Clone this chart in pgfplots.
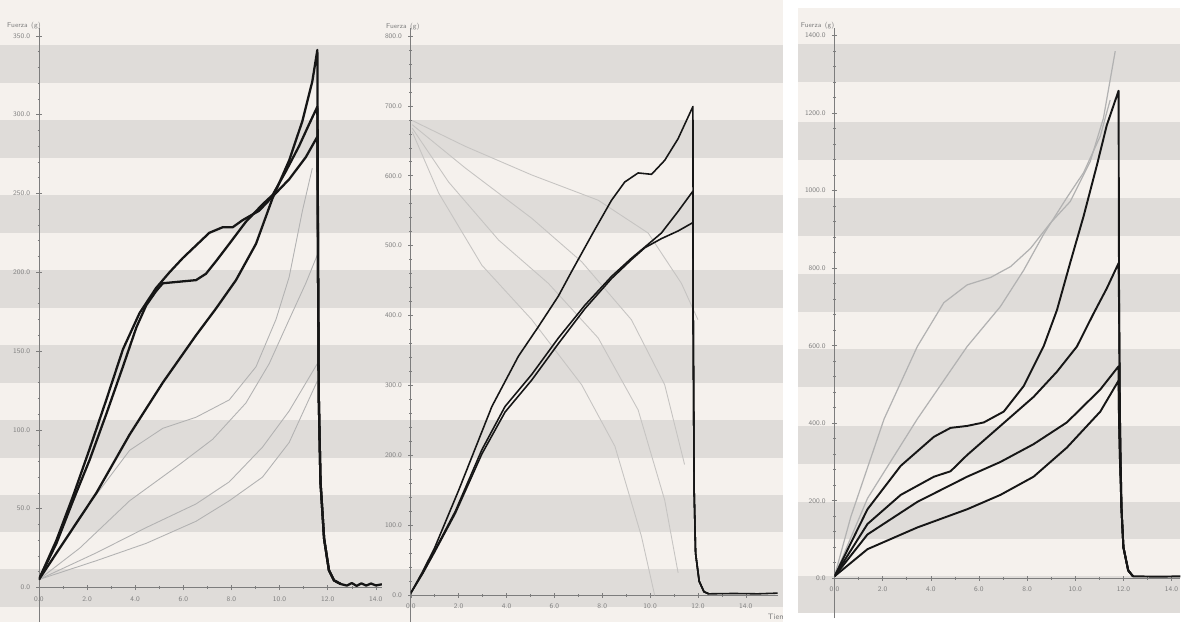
\documentclass[border=0pt]{standalone}
\usepackage{pgfplots}
\pgfplotsset{compat=1.18}
\definecolor{paper}{RGB}{245,241,237}
\definecolor{band}{RGB}{223,220,217}
\definecolor{ink}{RGB}{22,22,22}
\definecolor{ghost}{RGB}{178,178,178}
\definecolor{faint}{RGB}{198,196,194}
\definecolor{axisc}{RGB}{125,125,125}
\pgfplotsset{
  panel/.style={
    scale only axis, axis lines=middle,
    axis line style={-, draw=axisc, line width=0.4pt},
    hide obscured x ticks=false, hide obscured y ticks=false,
    tick style={draw=axisc, line width=0.3pt},
    major tick length=3pt, minor tick length=1.5pt,
    ticklabel style={font=\sffamily\fontsize{4}{4.5}\selectfont, text=gray},
    /pgf/number format/.cd, fixed, fixed zerofill, precision=1, 1000 sep={}, assume math mode=true,
    /pgfplots/.cd,
    xtick={0,2,...,14}, minor x tick num=1, minor y tick num=4,
    anchor=south west,
  },
  dark/.style={ink, line width=1.3pt, line join=round},
  ghostline/.style={ghost, line width=0.5pt},
}
\begin{document}
\begin{tikzpicture}
% paper and stripes, in pixel units of the scan
\begin{axis}[at={(0,0)}, anchor=south west, scale only axis, width=23.68cm, height=12.48cm,
  xmin=0, xmax=1184, ymin=0, ymax=624, y dir=reverse, hide axis]
\addplot[fill=white, draw=none] coordinates {(0,0) (1184,0) (1184,624) (0,624)} -- cycle;
\addplot[fill=paper, draw=none] coordinates {(0,0) (785,0) (785,624) (0,624)} -- cycle;
\addplot[fill=paper, draw=none] coordinates {(800,8) (1184,8) (1184,615) (800,615)} -- cycle;
\pgfplotsinvokeforeach{45,120,196,271,346,421,496,571}{
  \addplot[fill=band, draw=none] coordinates {(0,#1) (785,#1) (785,#1+38) (0,#1+38)} -- cycle;
}
\pgfplotsinvokeforeach{44,122,199,275,350,427,503}{
  \addplot[fill=band, draw=none] coordinates {(800,#1) (1184,#1) (1184,#1+38) (800,#1+38)} -- cycle;
}
\addplot[fill=band, draw=none] coordinates {(800,578) (1184,578) (1184,615) (800,615)} -- cycle;
\end{axis}

% panel 1
\begin{axis}[panel, at={(0.78cm,0cm)}, width=6.88cm, height=11.92cm,
  xmin=0, xmax=14.25, ymin=-22, ymax=355, ytick={0,50,...,350}]
\addplot[ghostline] coordinates {(0,5) (1.70,45) (3.77,87) (5.15,101) (6.53,108) (7.91,119) (9.02,140) (9.85,170) (10.40,197) (10.95,239) (11.36,266)};
\addplot[ghostline] coordinates {(0,5) (1.70,25) (3.77,55) (5.84,78) (7.22,94) (8.60,117) (9.57,142) (10.40,170) (11.09,193) (11.57,211)};
\addplot[ghostline] coordinates {(0,5) (2.39,22) (4.46,38) (6.53,53) (7.91,67) (9.29,89) (10.40,112) (11.57,142)};
\addplot[ghostline] coordinates {(0,5) (2.39,17) (4.46,28) (6.53,42) (7.91,55) (9.29,70) (10.40,92) (11.57,131)};
\addplot[dark] coordinates {(0,5) (0.73,28) (1.42,55) (2.11,81) (2.80,110) (3.49,140) (4.05,165) (4.46,179) (4.87,188) (5.15,193) (5.84,194) (6.53,195) (6.94,199) (7.36,207) (7.91,218) (8.60,232) (9.29,243) (9.71,249) (10.26,264) (10.81,280) (11.23,294) (11.57,305) (11.60,200) (11.63,120) (11.70,67) (11.85,31) (12.05,11) (12.26,4.5) (12.54,2.2)};
\addplot[dark] coordinates {(0,5) (0.73,30) (1.42,58) (2.11,88) (2.80,119) (3.49,151) (4.18,174) (4.87,190) (5.43,200) (5.98,209) (6.53,217) (7.08,225) (7.63,228.5) (8.05,228.5) (8.46,233) (9.15,239) (9.71,248) (10.40,259) (11.09,273) (11.57,286) (11.60,200) (11.63,120) (11.70,67) (11.85,31) (12.05,11) (12.26,4.5) (12.54,2.2)};
\addplot[dark] coordinates {(0,5) (1.0,28) (2.39,60) (3.77,97) (5.15,130) (6.53,160) (7.36,177) (8.19,195) (9.02,218) (9.71,247) (10.40,271) (10.95,296) (11.36,321) (11.57,341) (11.60,200) (11.63,120) (11.70,67) (11.85,31) (12.05,11) (12.26,4.5) (12.54,2.2) (12.8,1.2) (13.0,2.8) (13.2,1.0) (13.4,2.6) (13.6,1.2) (13.8,2.5) (14.0,1.3) (14.25,2.0)};
\end{axis}

% panel 2
\begin{axis}[panel, at={(8.24cm,0cm)}, width=7.36cm, height=11.92cm,
  xmin=0, xmax=15.33, ymin=-38.5, ymax=811.4, ytick={0,100,...,800}]
\addplot[faint, line width=0.5pt] coordinates {(0.06,679) (2.28,642) (5.06,601) (7.83,565) (9.92,518) (11.31,446) (12.0,394)};
\addplot[faint, line width=0.5pt] coordinates {(0.06,673) (2.28,611) (5.06,539) (7.14,477) (9.22,394) (10.61,301) (11.44,187)};
\addplot[faint, line width=0.5pt] coordinates {(0.06,668) (1.58,591) (3.67,508) (5.75,446) (7.83,368) (9.50,265) (10.61,136) (11.17,32)};
\addplot[faint, line width=0.5pt] coordinates {(0.06,663) (1.17,575) (2.97,472) (5.06,394) (7.14,301) (8.53,213) (9.64,84) (10.19,0)};
\addplot[dark, line width=0.9pt] coordinates {(0,3) (0.5,34) (1.0,68) (2.0,150) (3.39,270) (4.50,342) (5.33,384) (6.17,428) (6.72,463) (7.69,523) (8.39,565) (8.94,591) (9.50,604) (10.06,602) (10.61,622) (11.17,653) (11.79,699) (11.80,400) (11.84,150) (11.90,60) (12.05,20) (12.25,5) (12.45,2)};
\addplot[dark, line width=0.9pt] coordinates {(0,3) (0.5,32) (1.0,64) (1.86,120) (2.97,208) (3.94,270) (5.06,316) (6.17,368) (7.28,415) (8.39,456) (9.22,482) (9.78,498) (10.47,518) (11.17,549) (11.79,578) (11.80,400) (11.84,150) (11.90,60) (12.05,20) (12.25,5) (12.45,2)};
\addplot[dark, line width=0.9pt] coordinates {(0,3) (0.5,31) (1.0,62) (1.86,117) (2.97,202) (3.94,262) (5.06,308) (6.17,360) (7.28,410) (8.39,453) (9.22,480) (9.78,497) (10.47,510) (11.17,521) (11.79,533) (11.80,400) (11.84,150) (11.90,60) (12.05,20) (12.25,5) (12.45,2) (13.5,2.5) (14.5,2) (15.33,3)};
\end{axis}

% panel 3
\begin{axis}[panel, at={(16.74cm,0.08cm)}, width=6.94cm, height=11.84cm,
  xmin=0, xmax=14.37, ymin=-103, ymax=1420, ytick={0,200,...,1400}]
\addplot[ghostline, line width=0.7pt] coordinates {(0,5) (0.68,159) (2.06,411) (3.44,598) (4.54,711) (5.51,757) (6.48,776) (7.31,804) (8.14,851) (8.96,916) (9.79,972) (10.62,1075) (11.17,1187) (11.66,1360)};
\addplot[ghostline, line width=0.7pt] coordinates {(0,5) (1.37,206) (3.44,411) (5.51,598) (6.89,701) (7.86,795) (8.69,888) (9.65,982) (10.35,1047) (11.04,1141) (11.45,1234)};
\addplot[dark, line width=1.1pt] coordinates {(0,5) (1.37,178) (2.75,290) (4.13,365) (4.82,388) (5.51,393) (6.20,402) (7.03,430) (7.86,496) (8.69,599) (9.24,692) (9.79,814) (10.35,935) (10.90,1066) (11.31,1169) (11.80,1258) (11.82,700) (11.86,400) (11.92,180) (12.0,80) (12.2,20) (12.4,5)};
\addplot[dark, line width=1.1pt] coordinates {(0,5) (1.37,140) (2.75,215) (4.13,262) (4.82,276) (5.51,318) (6.89,393) (8.27,468) (9.24,533) (10.07,598) (10.76,683) (11.31,748) (11.80,813) (11.82,700) (11.86,400) (11.92,180) (12.0,80) (12.2,20) (12.4,5)};
\addplot[dark, line width=1.1pt] coordinates {(0,5) (1.37,113) (3.44,197) (5.51,262) (6.89,300) (8.27,346) (9.65,402) (11.04,487) (11.80,547) (11.82,400) (11.86,300) (11.92,180) (12.0,80) (12.2,20) (12.4,5)};
\addplot[dark, line width=1.1pt] coordinates {(0,5) (1.37,75) (3.44,131) (5.51,178) (6.89,215) (8.27,262) (9.65,337) (11.04,430) (11.80,510) (11.82,400) (11.86,300) (11.92,180) (12.0,80) (12.2,20) (12.4,5) (13.5,4) (14.37,5)};
\end{axis}

% axis titles
\node[font=\sffamily\fontsize{4}{4.5}\selectfont, text=gray] at (0.48cm,11.96cm) {Fuerza\enspace(g)};
\node[font=\sffamily\fontsize{4}{4.5}\selectfont, text=gray] at (8.08cm,11.94cm) {Fuerza\enspace(g)};
\node[font=\sffamily\fontsize{4}{4.5}\selectfont, text=gray] at (16.40cm,11.96cm) {Fuerza\enspace(g)};
\begin{scope}
\clip (0,0) rectangle (15.70cm,12.48cm);
\node[font=\sffamily\fontsize{4.5}{5}\selectfont, text=gray, anchor=west] at (15.28cm,0.10cm) {Tiempo (seg.)};
\end{scope}
\end{tikzpicture}
\end{document}
